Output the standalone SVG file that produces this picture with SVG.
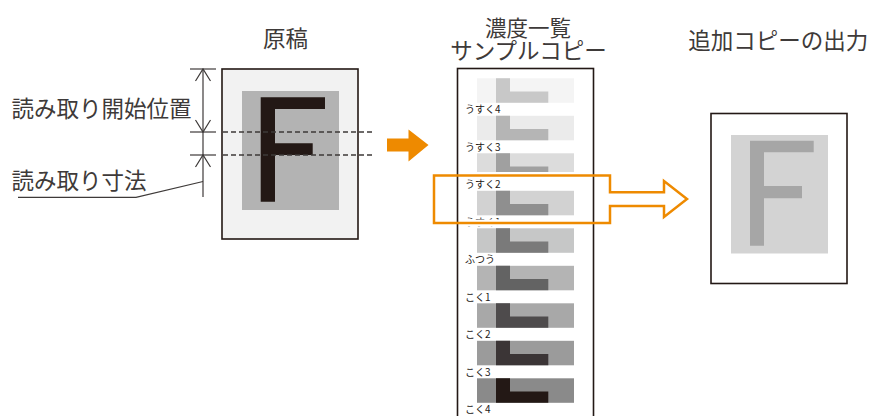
<svg xmlns="http://www.w3.org/2000/svg" width="873" height="416" viewBox="0 0 873 416">
<style>
.t{font-family:"Noto Sans CJK JP","Noto Sans",sans-serif;fill:#3e3a39;font-size:22.5px}
.h{font-size:21.5px}
.s{font-family:"Noto Sans CJK JP","Noto Sans",sans-serif;fill:#231815;font-size:10px}
.ln{stroke:#3e3a39;stroke-width:1.2;fill:none}
.dash{stroke:#3e3a39;stroke-width:1.3;stroke-dasharray:5 3;fill:none}
.frame{stroke:#231815;stroke-width:1.6}
.L{stroke:none}
</style>
<rect width="873" height="416" fill="#ffffff"/>

<g id="original">
<text class="t" x="285.5" y="46.5" text-anchor="middle">原稿</text>
<rect class="frame" x="222" y="69" width="136" height="170" fill="#f2f2f2"/>
<rect x="242" y="91" width="97" height="119" fill="#b3b3b3"/>
<path d="M260.7,97.3H325V109H275V143.3H312.7V155H275V201.7H260.7Z" fill="#231815"/>
</g>

<g id="dimensions">
<text class="t" x="11.5" y="116.5">読み取り開始位置</text>
<text class="t" x="11.5" y="188.5">読み取り寸法</text>
<line class="ln" x1="190" y1="69" x2="216" y2="69"/>
<line class="ln" x1="190" y1="132" x2="216" y2="132"/>
<line class="ln" x1="190" y1="155" x2="216" y2="155"/>
<line class="dash" x1="223" y1="132" x2="373" y2="132"/>
<line class="dash" x1="223" y1="155" x2="373" y2="155"/>
<line class="ln" x1="203" y1="69" x2="203" y2="197"/>
<path class="ln" d="M195.5,81L203,69L210.5,81M195.5,120L203,132L210.5,120M195.5,167L203,155L210.5,167"/>
<path class="ln" d="M203,181.5L136,197.3H18"/>
</g>

<g id="connectors">
<polygon points="387,138.5 408.5,138.5 408.5,129.5 428.5,145 408.5,161.5 408.5,151.5 387,151.5" fill="#ee8a00"/>
</g>

<g id="samples">
<text class="t h" x="528" y="35.5" text-anchor="middle">濃度一覧</text>
<text class="t" x="528.5" y="59" text-anchor="middle">サンプルコピー</text>
<rect class="frame" x="457.5" y="68.5" width="136" height="360" fill="#ffffff"/>
<g id="s1"><rect x="477" y="78.3" width="97" height="24.5" fill="#f4f4f4"/><path class="L" d="M496,78.3H510V91.5H548.3V102.8H496Z" fill="#c8c8c8"/><text class="s" x="465" y="113.3">うすく4</text></g>
<g id="s2"><rect x="477" y="115.8" width="97" height="24.5" fill="#ebebeb"/><path class="L" d="M496,115.8H510V129H548.3V140.3H496Z" fill="#b5b5b5"/><text class="s" x="465" y="150.8">うすく3</text></g>
<g id="s3"><rect x="477" y="153.3" width="97" height="24.5" fill="#dcdcdc"/><path class="L" d="M496,153.3H510V166.5H548.3V177.8H496Z" fill="#a0a0a0"/><text class="s" x="465" y="188.3">うすく2</text></g>
<g id="s4"><rect x="477" y="190.8" width="97" height="24.5" fill="#d2d2d2"/><path class="L" d="M496,190.8H510V204H548.3V215.3H496Z" fill="#8f8f8f"/><text class="s" x="465" y="225.8">うすく1</text></g>
<g id="s5"><rect x="477" y="228.3" width="97" height="24.5" fill="#c6c7c7"/><path class="L" d="M496,228.3H510V241.5H548.3V252.8H496Z" fill="#7a7a7a"/><text class="s" x="465" y="263.3">ふつう</text></g>
<g id="s6"><rect x="477" y="265.8" width="97" height="24.5" fill="#b4b4b4"/><path class="L" d="M496,265.8H510V279H548.3V290.3H496Z" fill="#636363"/><text class="s" x="465" y="300.8">こく1</text></g>
<g id="s7"><rect x="477" y="303.3" width="97" height="24.5" fill="#a8a8a8"/><path class="L" d="M496,303.3H510V316.5H548.3V327.8H496Z" fill="#4e4b4c"/><text class="s" x="465" y="338.3">こく2</text></g>
<g id="s8"><rect x="477" y="340.8" width="97" height="24.5" fill="#9b9b9b"/><path class="L" d="M496,340.8H510V354H548.3V365.3H496Z" fill="#3b3536"/><text class="s" x="465" y="375.8">こく3</text></g>
<g id="s9"><rect x="477" y="378.3" width="97" height="24.5" fill="#8a8a8a"/><path class="L" d="M496,378.3H510V391.5H548.3V402.8H496Z" fill="#231815"/><text class="s" x="465" y="413.3">こく4</text></g>
</g>

<g id="highlight-arrow">
<line x1="459" y1="175.5" x2="592" y2="175.5" stroke="#ffffff" stroke-width="7"/>
<line x1="459" y1="223" x2="592" y2="223" stroke="#ffffff" stroke-width="7"/>
<path d="M434,175.5H610V192.3H664V181L687,199L664,217V206H610V223H434Z" fill="none" stroke="#ee8a00" stroke-width="2.5"/>
</g>

<g id="output">
<text class="t" x="778.3" y="48.5" text-anchor="middle">追加コピーの出力</text>
<rect class="frame" x="711" y="113.5" width="136" height="170" fill="#ffffff"/>
<rect x="731" y="135" width="97" height="118.5" fill="#d3d3d3"/>
<path d="M750,140.7H813.7V152.3H764V186H802V198.3H764V245.7H750Z" fill="#a6a6a6"/>
</g>
</svg>
